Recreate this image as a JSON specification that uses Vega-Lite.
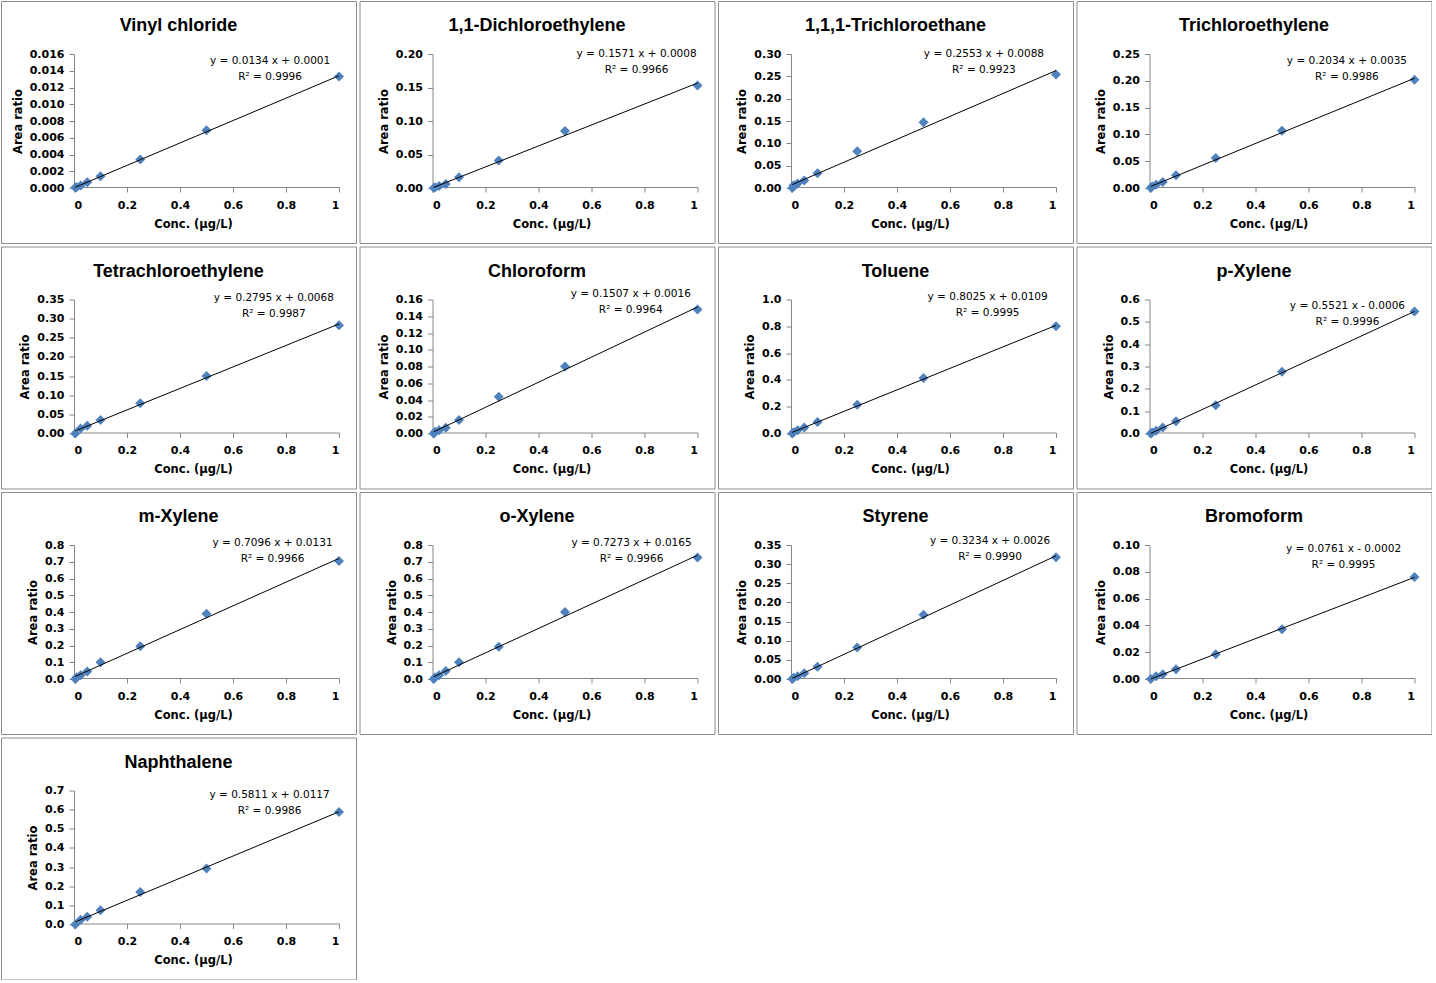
{
  "$schema": "https://vega.github.io/schema/vega-lite/v6.json",
  "background": "white",
  "padding": {"left": 0, "top": 0, "right": 0, "bottom": 0},
  "columns": 4,
  "spacing": {"row": 1.5, "column": 1.5},
  "datasets": {
    "pts": [
      {"compound": "Vinyl chloride", "conc": 0.005, "ratio": 0.00005},
      {"compound": "Vinyl chloride", "conc": 0.01, "ratio": 0.0001},
      {"compound": "Vinyl chloride", "conc": 0.025, "ratio": 0.0003},
      {"compound": "Vinyl chloride", "conc": 0.05, "ratio": 0.0007},
      {"compound": "Vinyl chloride", "conc": 0.1, "ratio": 0.0014},
      {"compound": "Vinyl chloride", "conc": 0.25, "ratio": 0.0034},
      {"compound": "Vinyl chloride", "conc": 0.5, "ratio": 0.0069},
      {"compound": "Vinyl chloride", "conc": 1, "ratio": 0.0133},
      {"compound": "1,1-Dichloroethylene", "conc": 0.005, "ratio": 0.0},
      {"compound": "1,1-Dichloroethylene", "conc": 0.01, "ratio": 0.001},
      {"compound": "1,1-Dichloroethylene", "conc": 0.025, "ratio": 0.003},
      {"compound": "1,1-Dichloroethylene", "conc": 0.05, "ratio": 0.006},
      {"compound": "1,1-Dichloroethylene", "conc": 0.1, "ratio": 0.016},
      {"compound": "1,1-Dichloroethylene", "conc": 0.25, "ratio": 0.041},
      {"compound": "1,1-Dichloroethylene", "conc": 0.5, "ratio": 0.085},
      {"compound": "1,1-Dichloroethylene", "conc": 1, "ratio": 0.153},
      {"compound": "1,1,1-Trichloroethane", "conc": 0.005, "ratio": 0.0},
      {"compound": "1,1,1-Trichloroethane", "conc": 0.01, "ratio": 0.006},
      {"compound": "1,1,1-Trichloroethane", "conc": 0.025, "ratio": 0.01},
      {"compound": "1,1,1-Trichloroethane", "conc": 0.05, "ratio": 0.017},
      {"compound": "1,1,1-Trichloroethane", "conc": 0.1, "ratio": 0.033},
      {"compound": "1,1,1-Trichloroethane", "conc": 0.25, "ratio": 0.082},
      {"compound": "1,1,1-Trichloroethane", "conc": 0.5, "ratio": 0.147},
      {"compound": "1,1,1-Trichloroethane", "conc": 1, "ratio": 0.254},
      {"compound": "Trichloroethylene", "conc": 0.005, "ratio": 0.0},
      {"compound": "Trichloroethylene", "conc": 0.01, "ratio": 0.003},
      {"compound": "Trichloroethylene", "conc": 0.025, "ratio": 0.006},
      {"compound": "Trichloroethylene", "conc": 0.05, "ratio": 0.011},
      {"compound": "Trichloroethylene", "conc": 0.1, "ratio": 0.024},
      {"compound": "Trichloroethylene", "conc": 0.25, "ratio": 0.056},
      {"compound": "Trichloroethylene", "conc": 0.5, "ratio": 0.107},
      {"compound": "Trichloroethylene", "conc": 1, "ratio": 0.202},
      {"compound": "Tetrachloroethylene", "conc": 0.005, "ratio": 0.0},
      {"compound": "Tetrachloroethylene", "conc": 0.025, "ratio": 0.013},
      {"compound": "Tetrachloroethylene", "conc": 0.05, "ratio": 0.02},
      {"compound": "Tetrachloroethylene", "conc": 0.1, "ratio": 0.035},
      {"compound": "Tetrachloroethylene", "conc": 0.25, "ratio": 0.079},
      {"compound": "Tetrachloroethylene", "conc": 0.5, "ratio": 0.15},
      {"compound": "Tetrachloroethylene", "conc": 1, "ratio": 0.283},
      {"compound": "Chloroform", "conc": 0.005, "ratio": 0.0},
      {"compound": "Chloroform", "conc": 0.01, "ratio": 0.002},
      {"compound": "Chloroform", "conc": 0.025, "ratio": 0.004},
      {"compound": "Chloroform", "conc": 0.05, "ratio": 0.007},
      {"compound": "Chloroform", "conc": 0.1, "ratio": 0.016},
      {"compound": "Chloroform", "conc": 0.25, "ratio": 0.044},
      {"compound": "Chloroform", "conc": 0.5, "ratio": 0.08},
      {"compound": "Chloroform", "conc": 1, "ratio": 0.148},
      {"compound": "Toluene", "conc": 0.005, "ratio": 0.0},
      {"compound": "Toluene", "conc": 0.01, "ratio": 0.01},
      {"compound": "Toluene", "conc": 0.025, "ratio": 0.025},
      {"compound": "Toluene", "conc": 0.05, "ratio": 0.045},
      {"compound": "Toluene", "conc": 0.1, "ratio": 0.085},
      {"compound": "Toluene", "conc": 0.25, "ratio": 0.215},
      {"compound": "Toluene", "conc": 0.5, "ratio": 0.415},
      {"compound": "Toluene", "conc": 1, "ratio": 0.8},
      {"compound": "p-Xylene", "conc": 0.005, "ratio": 0.0},
      {"compound": "p-Xylene", "conc": 0.01, "ratio": 0.005},
      {"compound": "p-Xylene", "conc": 0.025, "ratio": 0.012},
      {"compound": "p-Xylene", "conc": 0.05, "ratio": 0.027},
      {"compound": "p-Xylene", "conc": 0.1, "ratio": 0.055},
      {"compound": "p-Xylene", "conc": 0.25, "ratio": 0.127},
      {"compound": "p-Xylene", "conc": 0.5, "ratio": 0.277},
      {"compound": "p-Xylene", "conc": 1, "ratio": 0.546},
      {"compound": "m-Xylene", "conc": 0.005, "ratio": 0.0},
      {"compound": "m-Xylene", "conc": 0.01, "ratio": 0.01},
      {"compound": "m-Xylene", "conc": 0.025, "ratio": 0.022},
      {"compound": "m-Xylene", "conc": 0.05, "ratio": 0.045},
      {"compound": "m-Xylene", "conc": 0.1, "ratio": 0.1},
      {"compound": "m-Xylene", "conc": 0.25, "ratio": 0.195},
      {"compound": "m-Xylene", "conc": 0.5, "ratio": 0.39},
      {"compound": "m-Xylene", "conc": 1, "ratio": 0.705},
      {"compound": "o-Xylene", "conc": 0.005, "ratio": 0.0},
      {"compound": "o-Xylene", "conc": 0.01, "ratio": 0.01},
      {"compound": "o-Xylene", "conc": 0.025, "ratio": 0.022},
      {"compound": "o-Xylene", "conc": 0.05, "ratio": 0.048},
      {"compound": "o-Xylene", "conc": 0.1, "ratio": 0.1},
      {"compound": "o-Xylene", "conc": 0.25, "ratio": 0.192},
      {"compound": "o-Xylene", "conc": 0.5, "ratio": 0.4},
      {"compound": "o-Xylene", "conc": 1, "ratio": 0.725},
      {"compound": "Styrene", "conc": 0.005, "ratio": 0.0},
      {"compound": "Styrene", "conc": 0.01, "ratio": 0.003},
      {"compound": "Styrene", "conc": 0.025, "ratio": 0.007},
      {"compound": "Styrene", "conc": 0.05, "ratio": 0.015},
      {"compound": "Styrene", "conc": 0.1, "ratio": 0.032},
      {"compound": "Styrene", "conc": 0.25, "ratio": 0.082},
      {"compound": "Styrene", "conc": 0.5, "ratio": 0.168},
      {"compound": "Styrene", "conc": 1, "ratio": 0.318},
      {"compound": "Bromoform", "conc": 0.005, "ratio": 0.0},
      {"compound": "Bromoform", "conc": 0.025, "ratio": 0.002},
      {"compound": "Bromoform", "conc": 0.05, "ratio": 0.0036},
      {"compound": "Bromoform", "conc": 0.1, "ratio": 0.0072},
      {"compound": "Bromoform", "conc": 0.25, "ratio": 0.0185},
      {"compound": "Bromoform", "conc": 0.5, "ratio": 0.0372},
      {"compound": "Bromoform", "conc": 1, "ratio": 0.0762},
      {"compound": "Naphthalene", "conc": 0.005, "ratio": 0.0},
      {"compound": "Naphthalene", "conc": 0.025, "ratio": 0.025},
      {"compound": "Naphthalene", "conc": 0.05, "ratio": 0.04},
      {"compound": "Naphthalene", "conc": 0.1, "ratio": 0.075},
      {"compound": "Naphthalene", "conc": 0.25, "ratio": 0.17},
      {"compound": "Naphthalene", "conc": 0.5, "ratio": 0.293},
      {"compound": "Naphthalene", "conc": 1, "ratio": 0.588}
    ]
  },
  "concat": [
    {
      "title": "Vinyl chloride", "width": 355, "height": 242,
      "data": {"name": "pts"},
      "transform": [{"filter": "datum.compound === 'Vinyl chloride'"}],
      "encoding": {
        "x": {"field": "conc", "type": "quantitative", "title": "Conc. (μg/L)", "scale": {"domain": [0, 1], "range": [73, 338], "nice": false, "zero": false}, "axis": {"values": [0, 0.2, 0.4, 0.6, 0.8, 1], "format": "~g"}},
        "y": {"field": "ratio", "type": "quantitative", "title": "Area ratio", "scale": {"domain": [0, 0.016], "range": [187, 53], "nice": false, "zero": false}, "axis": {"values": [0, 0.002, 0.004, 0.006, 0.008, 0.01, 0.012, 0.014, 0.016], "format": ".3f"}}
      },
      "layer": [
        {"mark": {"type": "point", "shape": "diamond", "filled": true, "size": 100, "color": "#4F81BD", "opacity": 1}},
        {"transform": [{"regression": "ratio", "on": "conc"}], "mark": {"type": "line", "color": "#000000", "strokeWidth": 1}},
        {"transform": [{"filter": "datum.conc === 1"}], "mark": {"type": "text", "text": "y = 0.0134 x + 0.0001\nR² = 0.9996", "font": "DejaVu Sans", "fontSize": 10.5, "lineBreak": "\n", "lineHeight": 16, "align": "center", "baseline": "middle", "color": "#000000"},
         "encoding": {"x": {"datum": 0.74, "type": "quantitative"}, "y": {"datum": 0.01516, "type": "quantitative"}}}
      ]
    },
    {
      "title": "1,1-Dichloroethylene", "width": 355, "height": 242,
      "data": {"name": "pts"},
      "transform": [{"filter": "datum.compound === '1,1-Dichloroethylene'"}],
      "encoding": {
        "x": {"field": "conc", "type": "quantitative", "title": "Conc. (μg/L)", "scale": {"domain": [0, 1], "range": [73, 338], "nice": false, "zero": false}, "axis": {"values": [0, 0.2, 0.4, 0.6, 0.8, 1], "format": "~g"}},
        "y": {"field": "ratio", "type": "quantitative", "title": "Area ratio", "scale": {"domain": [0, 0.2], "range": [187, 53], "nice": false, "zero": false}, "axis": {"values": [0, 0.05, 0.1, 0.15, 0.2], "format": ".2f"}}
      },
      "layer": [
        {"mark": {"type": "point", "shape": "diamond", "filled": true, "size": 100, "color": "#4F81BD", "opacity": 1}},
        {"transform": [{"regression": "ratio", "on": "conc"}], "mark": {"type": "line", "color": "#000000", "strokeWidth": 1}},
        {"transform": [{"filter": "datum.conc === 1"}], "mark": {"type": "text", "text": "y = 0.1571 x + 0.0008\nR² = 0.9966", "font": "DejaVu Sans", "fontSize": 10.5, "lineBreak": "\n", "lineHeight": 16, "align": "center", "baseline": "middle", "color": "#000000"},
         "encoding": {"x": {"datum": 0.77, "type": "quantitative"}, "y": {"datum": 0.2, "type": "quantitative"}}}
      ]
    },
    {
      "title": "1,1,1-Trichloroethane", "width": 355, "height": 242,
      "data": {"name": "pts"},
      "transform": [{"filter": "datum.compound === '1,1,1-Trichloroethane'"}],
      "encoding": {
        "x": {"field": "conc", "type": "quantitative", "title": "Conc. (μg/L)", "scale": {"domain": [0, 1], "range": [73, 338], "nice": false, "zero": false}, "axis": {"values": [0, 0.2, 0.4, 0.6, 0.8, 1], "format": "~g"}},
        "y": {"field": "ratio", "type": "quantitative", "title": "Area ratio", "scale": {"domain": [0, 0.3], "range": [187, 53], "nice": false, "zero": false}, "axis": {"values": [0, 0.05, 0.1, 0.15, 0.2, 0.25, 0.3], "format": ".2f"}}
      },
      "layer": [
        {"mark": {"type": "point", "shape": "diamond", "filled": true, "size": 100, "color": "#4F81BD", "opacity": 1}},
        {"transform": [{"regression": "ratio", "on": "conc"}], "mark": {"type": "line", "color": "#000000", "strokeWidth": 1}},
        {"transform": [{"filter": "datum.conc === 1"}], "mark": {"type": "text", "text": "y = 0.2553 x + 0.0088\nR² = 0.9923", "font": "DejaVu Sans", "fontSize": 10.5, "lineBreak": "\n", "lineHeight": 16, "align": "center", "baseline": "middle", "color": "#000000"},
         "encoding": {"x": {"datum": 0.728, "type": "quantitative"}, "y": {"datum": 0.3, "type": "quantitative"}}}
      ]
    },
    {
      "title": "Trichloroethylene", "width": 355, "height": 242,
      "data": {"name": "pts"},
      "transform": [{"filter": "datum.compound === 'Trichloroethylene'"}],
      "encoding": {
        "x": {"field": "conc", "type": "quantitative", "title": "Conc. (μg/L)", "scale": {"domain": [0, 1], "range": [73, 338], "nice": false, "zero": false}, "axis": {"values": [0, 0.2, 0.4, 0.6, 0.8, 1], "format": "~g"}},
        "y": {"field": "ratio", "type": "quantitative", "title": "Area ratio", "scale": {"domain": [0, 0.25], "range": [187, 53], "nice": false, "zero": false}, "axis": {"values": [0, 0.05, 0.1, 0.15, 0.2, 0.25], "format": ".2f"}}
      },
      "layer": [
        {"mark": {"type": "point", "shape": "diamond", "filled": true, "size": 100, "color": "#4F81BD", "opacity": 1}},
        {"transform": [{"regression": "ratio", "on": "conc"}], "mark": {"type": "line", "color": "#000000", "strokeWidth": 1}},
        {"transform": [{"filter": "datum.conc === 1"}], "mark": {"type": "text", "text": "y = 0.2034 x + 0.0035\nR² = 0.9986", "font": "DejaVu Sans", "fontSize": 10.5, "lineBreak": "\n", "lineHeight": 16, "align": "center", "baseline": "middle", "color": "#000000"},
         "encoding": {"x": {"datum": 0.745, "type": "quantitative"}, "y": {"datum": 0.237, "type": "quantitative"}}}
      ]
    },
    {
      "title": "Tetrachloroethylene", "width": 355, "height": 242,
      "data": {"name": "pts"},
      "transform": [{"filter": "datum.compound === 'Tetrachloroethylene'"}],
      "encoding": {
        "x": {"field": "conc", "type": "quantitative", "title": "Conc. (μg/L)", "scale": {"domain": [0, 1], "range": [73, 338], "nice": false, "zero": false}, "axis": {"values": [0, 0.2, 0.4, 0.6, 0.8, 1], "format": "~g"}},
        "y": {"field": "ratio", "type": "quantitative", "title": "Area ratio", "scale": {"domain": [0, 0.35], "range": [187, 53], "nice": false, "zero": false}, "axis": {"values": [0, 0.05, 0.1, 0.15, 0.2, 0.25, 0.3, 0.35], "format": ".2f"}}
      },
      "layer": [
        {"mark": {"type": "point", "shape": "diamond", "filled": true, "size": 100, "color": "#4F81BD", "opacity": 1}},
        {"transform": [{"regression": "ratio", "on": "conc"}], "mark": {"type": "line", "color": "#000000", "strokeWidth": 1}},
        {"transform": [{"filter": "datum.conc === 1"}], "mark": {"type": "text", "text": "y = 0.2795 x + 0.0068\nR² = 0.9987", "font": "DejaVu Sans", "fontSize": 10.5, "lineBreak": "\n", "lineHeight": 16, "align": "center", "baseline": "middle", "color": "#000000"},
         "encoding": {"x": {"datum": 0.754, "type": "quantitative"}, "y": {"datum": 0.355, "type": "quantitative"}}}
      ]
    },
    {
      "title": "Chloroform", "width": 355, "height": 242,
      "data": {"name": "pts"},
      "transform": [{"filter": "datum.compound === 'Chloroform'"}],
      "encoding": {
        "x": {"field": "conc", "type": "quantitative", "title": "Conc. (μg/L)", "scale": {"domain": [0, 1], "range": [73, 338], "nice": false, "zero": false}, "axis": {"values": [0, 0.2, 0.4, 0.6, 0.8, 1], "format": "~g"}},
        "y": {"field": "ratio", "type": "quantitative", "title": "Area ratio", "scale": {"domain": [0, 0.16], "range": [187, 53], "nice": false, "zero": false}, "axis": {"values": [0, 0.02, 0.04, 0.06, 0.08, 0.1, 0.12, 0.14, 0.16], "format": ".2f"}}
      },
      "layer": [
        {"mark": {"type": "point", "shape": "diamond", "filled": true, "size": 100, "color": "#4F81BD", "opacity": 1}},
        {"transform": [{"regression": "ratio", "on": "conc"}], "mark": {"type": "line", "color": "#000000", "strokeWidth": 1}},
        {"transform": [{"filter": "datum.conc === 1"}], "mark": {"type": "text", "text": "y = 0.1507 x + 0.0016\nR² = 0.9964", "font": "DejaVu Sans", "fontSize": 10.5, "lineBreak": "\n", "lineHeight": 16, "align": "center", "baseline": "middle", "color": "#000000"},
         "encoding": {"x": {"datum": 0.748, "type": "quantitative"}, "y": {"datum": 0.166, "type": "quantitative"}}}
      ]
    },
    {
      "title": "Toluene", "width": 355, "height": 242,
      "data": {"name": "pts"},
      "transform": [{"filter": "datum.compound === 'Toluene'"}],
      "encoding": {
        "x": {"field": "conc", "type": "quantitative", "title": "Conc. (μg/L)", "scale": {"domain": [0, 1], "range": [73, 338], "nice": false, "zero": false}, "axis": {"values": [0, 0.2, 0.4, 0.6, 0.8, 1], "format": "~g"}},
        "y": {"field": "ratio", "type": "quantitative", "title": "Area ratio", "scale": {"domain": [0, 1], "range": [187, 53], "nice": false, "zero": false}, "axis": {"values": [0, 0.2, 0.4, 0.6, 0.8, 1], "format": ".1f"}}
      },
      "layer": [
        {"mark": {"type": "point", "shape": "diamond", "filled": true, "size": 100, "color": "#4F81BD", "opacity": 1}},
        {"transform": [{"regression": "ratio", "on": "conc"}], "mark": {"type": "line", "color": "#000000", "strokeWidth": 1}},
        {"transform": [{"filter": "datum.conc === 1"}], "mark": {"type": "text", "text": "y = 0.8025 x + 0.0109\nR² = 0.9995", "font": "DejaVu Sans", "fontSize": 10.5, "lineBreak": "\n", "lineHeight": 16, "align": "center", "baseline": "middle", "color": "#000000"},
         "encoding": {"x": {"datum": 0.742, "type": "quantitative"}, "y": {"datum": 1.022, "type": "quantitative"}}}
      ]
    },
    {
      "title": "p-Xylene", "width": 355, "height": 242,
      "data": {"name": "pts"},
      "transform": [{"filter": "datum.compound === 'p-Xylene'"}],
      "encoding": {
        "x": {"field": "conc", "type": "quantitative", "title": "Conc. (μg/L)", "scale": {"domain": [0, 1], "range": [73, 338], "nice": false, "zero": false}, "axis": {"values": [0, 0.2, 0.4, 0.6, 0.8, 1], "format": "~g"}},
        "y": {"field": "ratio", "type": "quantitative", "title": "Area ratio", "scale": {"domain": [0, 0.6], "range": [187, 53], "nice": false, "zero": false}, "axis": {"values": [0, 0.1, 0.2, 0.3, 0.4, 0.5, 0.6], "format": ".1f"}}
      },
      "layer": [
        {"mark": {"type": "point", "shape": "diamond", "filled": true, "size": 100, "color": "#4F81BD", "opacity": 1}},
        {"transform": [{"regression": "ratio", "on": "conc"}], "mark": {"type": "line", "color": "#000000", "strokeWidth": 1}},
        {"transform": [{"filter": "datum.conc === 1"}], "mark": {"type": "text", "text": "y = 0.5521 x - 0.0006\nR² = 0.9996", "font": "DejaVu Sans", "fontSize": 10.5, "lineBreak": "\n", "lineHeight": 16, "align": "center", "baseline": "middle", "color": "#000000"},
         "encoding": {"x": {"datum": 0.747, "type": "quantitative"}, "y": {"datum": 0.573, "type": "quantitative"}}}
      ]
    },
    {
      "title": "m-Xylene", "width": 355, "height": 242,
      "data": {"name": "pts"},
      "transform": [{"filter": "datum.compound === 'm-Xylene'"}],
      "encoding": {
        "x": {"field": "conc", "type": "quantitative", "title": "Conc. (μg/L)", "scale": {"domain": [0, 1], "range": [73, 338], "nice": false, "zero": false}, "axis": {"values": [0, 0.2, 0.4, 0.6, 0.8, 1], "format": "~g"}},
        "y": {"field": "ratio", "type": "quantitative", "title": "Area ratio", "scale": {"domain": [0, 0.8], "range": [187, 53], "nice": false, "zero": false}, "axis": {"values": [0, 0.1, 0.2, 0.3, 0.4, 0.5, 0.6, 0.7, 0.8], "format": ".1f"}}
      },
      "layer": [
        {"mark": {"type": "point", "shape": "diamond", "filled": true, "size": 100, "color": "#4F81BD", "opacity": 1}},
        {"transform": [{"regression": "ratio", "on": "conc"}], "mark": {"type": "line", "color": "#000000", "strokeWidth": 1}},
        {"transform": [{"filter": "datum.conc === 1"}], "mark": {"type": "text", "text": "y = 0.7096 x + 0.0131\nR² = 0.9966", "font": "DejaVu Sans", "fontSize": 10.5, "lineBreak": "\n", "lineHeight": 16, "align": "center", "baseline": "middle", "color": "#000000"},
         "encoding": {"x": {"datum": 0.749, "type": "quantitative"}, "y": {"datum": 0.812, "type": "quantitative"}}}
      ]
    },
    {
      "title": "o-Xylene", "width": 355, "height": 242,
      "data": {"name": "pts"},
      "transform": [{"filter": "datum.compound === 'o-Xylene'"}],
      "encoding": {
        "x": {"field": "conc", "type": "quantitative", "title": "Conc. (μg/L)", "scale": {"domain": [0, 1], "range": [73, 338], "nice": false, "zero": false}, "axis": {"values": [0, 0.2, 0.4, 0.6, 0.8, 1], "format": "~g"}},
        "y": {"field": "ratio", "type": "quantitative", "title": "Area ratio", "scale": {"domain": [0, 0.8], "range": [187, 53], "nice": false, "zero": false}, "axis": {"values": [0, 0.1, 0.2, 0.3, 0.4, 0.5, 0.6, 0.7, 0.8], "format": ".1f"}}
      },
      "layer": [
        {"mark": {"type": "point", "shape": "diamond", "filled": true, "size": 100, "color": "#4F81BD", "opacity": 1}},
        {"transform": [{"regression": "ratio", "on": "conc"}], "mark": {"type": "line", "color": "#000000", "strokeWidth": 1}},
        {"transform": [{"filter": "datum.conc === 1"}], "mark": {"type": "text", "text": "y = 0.7273 x + 0.0165\nR² = 0.9966", "font": "DejaVu Sans", "fontSize": 10.5, "lineBreak": "\n", "lineHeight": 16, "align": "center", "baseline": "middle", "color": "#000000"},
         "encoding": {"x": {"datum": 0.751, "type": "quantitative"}, "y": {"datum": 0.812, "type": "quantitative"}}}
      ]
    },
    {
      "title": "Styrene", "width": 355, "height": 242,
      "data": {"name": "pts"},
      "transform": [{"filter": "datum.compound === 'Styrene'"}],
      "encoding": {
        "x": {"field": "conc", "type": "quantitative", "title": "Conc. (μg/L)", "scale": {"domain": [0, 1], "range": [73, 338], "nice": false, "zero": false}, "axis": {"values": [0, 0.2, 0.4, 0.6, 0.8, 1], "format": "~g"}},
        "y": {"field": "ratio", "type": "quantitative", "title": "Area ratio", "scale": {"domain": [0, 0.35], "range": [187, 53], "nice": false, "zero": false}, "axis": {"values": [0, 0.05, 0.1, 0.15, 0.2, 0.25, 0.3, 0.35], "format": ".2f"}}
      },
      "layer": [
        {"mark": {"type": "point", "shape": "diamond", "filled": true, "size": 100, "color": "#4F81BD", "opacity": 1}},
        {"transform": [{"regression": "ratio", "on": "conc"}], "mark": {"type": "line", "color": "#000000", "strokeWidth": 1}},
        {"transform": [{"filter": "datum.conc === 1"}], "mark": {"type": "text", "text": "y = 0.3234 x + 0.0026\nR² = 0.9990", "font": "DejaVu Sans", "fontSize": 10.5, "lineBreak": "\n", "lineHeight": 16, "align": "center", "baseline": "middle", "color": "#000000"},
         "encoding": {"x": {"datum": 0.751, "type": "quantitative"}, "y": {"datum": 0.3605, "type": "quantitative"}}}
      ]
    },
    {
      "title": "Bromoform", "width": 355, "height": 242,
      "data": {"name": "pts"},
      "transform": [{"filter": "datum.compound === 'Bromoform'"}],
      "encoding": {
        "x": {"field": "conc", "type": "quantitative", "title": "Conc. (μg/L)", "scale": {"domain": [0, 1], "range": [73, 338], "nice": false, "zero": false}, "axis": {"values": [0, 0.2, 0.4, 0.6, 0.8, 1], "format": "~g"}},
        "y": {"field": "ratio", "type": "quantitative", "title": "Area ratio", "scale": {"domain": [0, 0.1], "range": [187, 53], "nice": false, "zero": false}, "axis": {"values": [0, 0.02, 0.04, 0.06, 0.08, 0.1], "format": ".2f"}}
      },
      "layer": [
        {"mark": {"type": "point", "shape": "diamond", "filled": true, "size": 100, "color": "#4F81BD", "opacity": 1}},
        {"transform": [{"regression": "ratio", "on": "conc"}], "mark": {"type": "line", "color": "#000000", "strokeWidth": 1}},
        {"transform": [{"filter": "datum.conc === 1"}], "mark": {"type": "text", "text": "y = 0.0761 x - 0.0002\nR² = 0.9995", "font": "DejaVu Sans", "fontSize": 10.5, "lineBreak": "\n", "lineHeight": 16, "align": "center", "baseline": "middle", "color": "#000000"},
         "encoding": {"x": {"datum": 0.732, "type": "quantitative"}, "y": {"datum": 0.097, "type": "quantitative"}}}
      ]
    },
    {
      "title": "Naphthalene", "width": 355, "height": 242,
      "data": {"name": "pts"},
      "transform": [{"filter": "datum.compound === 'Naphthalene'"}],
      "encoding": {
        "x": {"field": "conc", "type": "quantitative", "title": "Conc. (μg/L)", "scale": {"domain": [0, 1], "range": [73, 338], "nice": false, "zero": false}, "axis": {"values": [0, 0.2, 0.4, 0.6, 0.8, 1], "format": "~g"}},
        "y": {"field": "ratio", "type": "quantitative", "title": "Area ratio", "scale": {"domain": [0, 0.7], "range": [187, 53], "nice": false, "zero": false}, "axis": {"values": [0, 0.1, 0.2, 0.3, 0.4, 0.5, 0.6, 0.7], "format": ".1f"}}
      },
      "layer": [
        {"mark": {"type": "point", "shape": "diamond", "filled": true, "size": 100, "color": "#4F81BD", "opacity": 1}},
        {"transform": [{"regression": "ratio", "on": "conc"}], "mark": {"type": "line", "color": "#000000", "strokeWidth": 1}},
        {"transform": [{"filter": "datum.conc === 1"}], "mark": {"type": "text", "text": "y = 0.5811 x + 0.0117\nR² = 0.9986", "font": "DejaVu Sans", "fontSize": 10.5, "lineBreak": "\n", "lineHeight": 16, "align": "center", "baseline": "middle", "color": "#000000"},
         "encoding": {"x": {"datum": 0.738, "type": "quantitative"}, "y": {"datum": 0.674, "type": "quantitative"}}}
      ]
    }
  ],
  "config": {
    "font": "DejaVu Sans",
    "view": {"stroke": "#8c8c8c", "strokeWidth": 1},
    "axis": {"grid": false, "domainColor": "#868686", "tickColor": "#868686", "tickSize": 5, "labelFont": "DejaVu Sans", "labelFontWeight": "bold", "labelFontSize": 11, "labelColor": "#000000", "titleFont": "DejaVu Sans", "titleFontWeight": "bold", "titleFontSize": 11.5, "titleColor": "#000000"},
    "axisY": {"offset": -73, "labelPadding": 5, "titlePadding": 6},
    "axisX": {"offset": -56, "labelPadding": 7, "titlePadding": 8, "titleX": 192},
    "title": {"font": "Liberation Sans", "fontSize": 18, "fontWeight": "bold", "color": "#000000", "offset": -34, "baseline": "middle", "anchor": "middle"}
  }
}
